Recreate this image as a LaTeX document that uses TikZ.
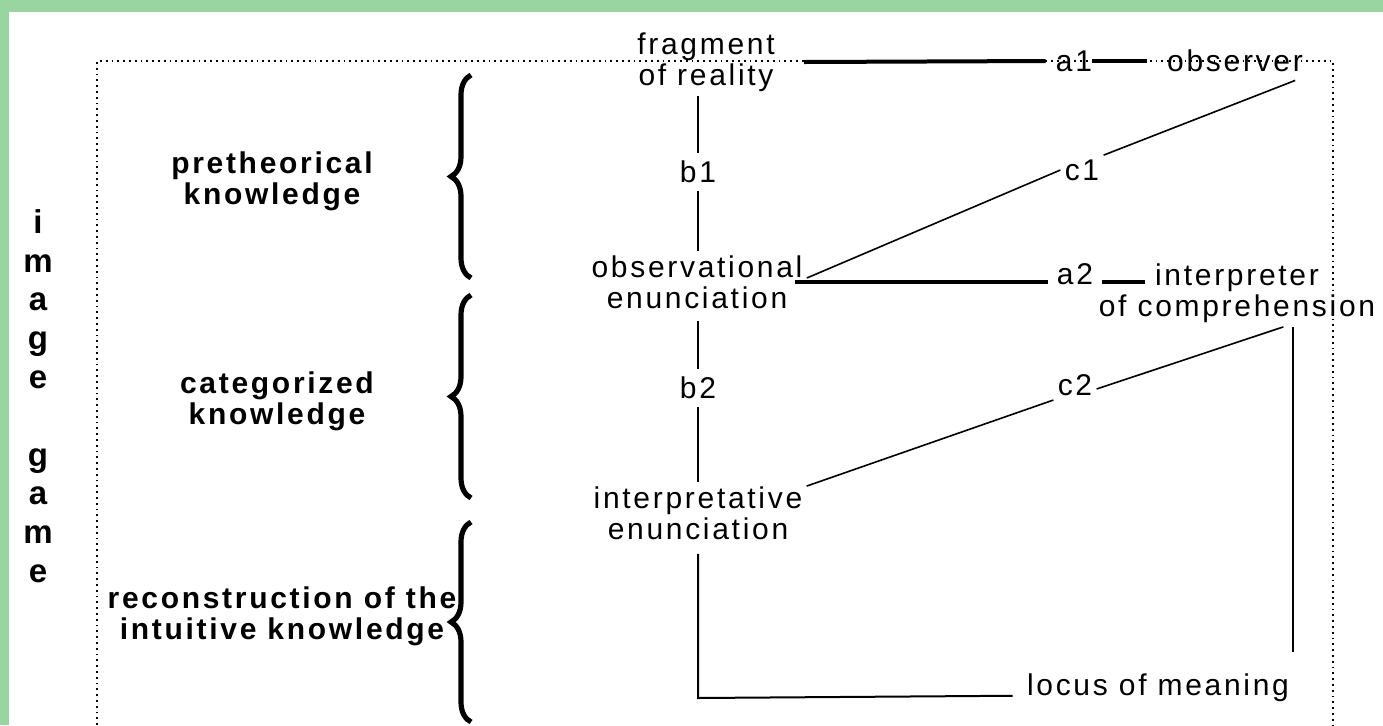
\documentclass[tikz,border=0pt]{standalone}
\usepackage{fontspec}
\setmainfont{Liberation Sans}[LetterSpace=9]
\usetikzlibrary{decorations.pathreplacing}
\definecolor{bandgreen}{RGB}{153,213,160}

\begin{document}
\begin{tikzpicture}[
  x=0.5pt, y=-0.5pt,
  lbl/.style={font=\fontsize{15}{15.5}\selectfont, align=center, inner sep=2pt},
  hd/.style={lbl, font=\fontsize{15}{15.5}\selectfont\bfseries},
  rule/.style={line width=1pt},
  slim/.style={line width=0.8pt},
  heavy/.style={line width=2pt},
  frame/.style={dotted, line width=0.9pt},
  curly/.style={decorate, decoration={brace, amplitude=10pt}, line width=2.6pt}
]

% --- tlo, pasy i ramka ---
\fill[white] (0,0) rectangle (1383,725);
\fill[bandgreen] (0,0) rectangle (1383,12);
\fill[bandgreen] (0,0) rectangle (9,725);
\useasboundingbox (0,0) rectangle (1383,725);
\draw[frame] (97,725) -- (97,61) -- (1333,61) -- (1333,725);

% --- kolumna srodkowa ---
\node[lbl] (frag) at (706,62) {fragment\\of reality};
\node[lbl, inner sep=4pt] (b1) at (698,172) {b1};
\node[lbl] (obs) at (697,282) {observational\\enunciation};
\node[lbl, inner sep=4pt] (b2) at (698,388) {b2};
\node[lbl] (intp) at (698,513) {interpretative\\enunciation};

% --- kolumna prawa ---
\node[lbl] (a1) at (1074,61) {a1};
\node[lbl] (observer) at (1235,61) {observer};
\node[lbl] (c1) at (1082,170) {c1};
\node[lbl, inner xsep=4.5pt] (a2) at (1075,274) {a2};
\node[lbl] (interp) at (1237,293) {interpreter\\of comprehension};
\node[lbl] (c2) at (1075,385) {c2};
\node[lbl] (locus) at (1158,688) {locus of meaning};

% --- opisy po lewej ---
\node[hd] (pre) at (272,181) {pretheorical\\knowledge};
\node[hd] (cat) at (277,401) {categorized\\knowledge};
\node[hd] (rec) at (282,616) {reconstruction of the\\intuitive knowledge};
\node[hd, font=\fontsize{16.5}{19.4}\selectfont\bfseries] (game) at (38,396)
  {i\\m\\a\\g\\e\\\mbox{}\\g\\a\\m\\e};

% --- klamry ---
\draw[curly] (471,278) -- (471,75);
\draw[curly] (471,498) -- (471,295);
\draw[curly] (471,722) -- (471,522);

% --- linia b ---
\draw[rule] (b1 |- frag.south) -- (b1.north);
\draw[rule] (b1.south) -- (b1 |- obs.north);
\draw[rule, shorten <=4pt] (b2 |- obs.south) -- (b2.north);
\draw[rule] (b2.south) -- (b2 |- intp.north);
\coordinate (bend) at (698,698);
\draw[rule, shorten <=5pt] (b2 |- intp.south) -- (bend) -- ([xshift=-5pt]locus.base west);

% --- linie a ---
\draw[heavy] ([xshift=12.5pt]frag.east) -- ([xshift=-3pt]a1.west);
\draw[heavy] ([xshift=-2pt]a1.east) -- ([xshift=-8pt]observer.west);
\coordinate (intL) at (1145,282);
\draw[heavy] ([xshift=-6pt]obs.east) -- (a2.west |- obs.east);
\draw[heavy] (a2.east |- obs.east) -- (intL);

% --- linie c ---
\draw[slim] ([yshift=2pt]obs.east) -- (c1.west);
\draw[slim] (c1.north east) -- ([xshift=-6pt,yshift=-2pt]observer.south east);
\draw[slim] ([yshift=-2pt]intp.north east) -- (c2.south west);
\coordinate (hinge) at (interp.south -| locus.east);
\draw[slim] ([yshift=-2pt]c2.east) -- ([xshift=-5pt]hinge);
\draw[rule] (hinge) -- ([yshift=9pt]locus.north east);

\end{tikzpicture}
\end{document}
